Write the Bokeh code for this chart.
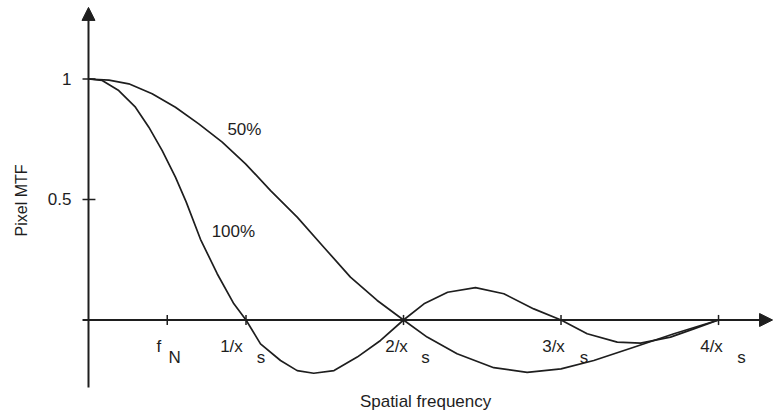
import math
from bokeh.plotting import figure
from bokeh.models import Range1d, Arrow, NormalHead, Label
from bokeh.core.properties import value
from bokeh.embed import file_html
from bokeh.resources import INLINE

# ---- data ----
x_100 = [0, 0.087, 0.192, 0.298, 0.383, 0.468, 0.552, 0.62, 0.711, 0.817, 0.923, 1.0,
         1.092, 1.219, 1.325, 1.43, 1.559, 1.706, 1.854, 2.0, 2.13, 2.28, 2.457, 2.637,
         2.827, 3.0, 3.166, 3.357, 3.505, 3.695, 3.843, 4.0]
mtf_100 = [1, 0.994, 0.952, 0.883, 0.800, 0.703, 0.593, 0.49, 0.335, 0.192, 0.067, 0,
           -0.099, -0.168, -0.21, -0.221, -0.21, -0.154, -0.085, 0, 0.067, 0.115, 0.134,
           0.109, 0.046, 0, -0.057, -0.092, -0.096, -0.071, -0.037, 0]

x_50 = [0, 0.13, 0.256, 0.404, 0.552, 0.700, 0.849, 0.997, 1.156, 1.325, 1.494, 1.663,
        1.833, 2.0, 2.15, 2.34, 2.573, 2.785, 3.0, 3.208, 3.462, 3.717, 4.0]
mtf_50 = [1, 0.995, 0.980, 0.939, 0.883, 0.814, 0.738, 0.648, 0.537, 0.427, 0.302, 0.178,
          0.081, 0, -0.071, -0.14, -0.198, -0.217, -0.203, -0.168, -0.113, -0.057, 0]

x_ticks = [0.5, 1, 2, 3, 4]
x_tick_main = ["f", "1/x", "2/x", "3/x", "4/x"]
x_tick_sub = ["N", "s", "s", "s", "s"]
y_ticks = [1, 0.5]
y_tick_labels = ["1", "0.5"]

curve_names = ["50%", "100%"]
curve_label_x = [0.99, 0.92]
curve_label_y = [0.79, 0.367]

x_title = "Spatial frequency"
y_title = "Pixel MTF"

# ---- styles ----
INK = "#1e1e1e"
FONT = "Liberation Sans"
main_dx = [-8.5, -14.5, -7, -7.5, -7]
sub_dx = [7.5, 15, 22, 23, 23]

W, H = 773, 411
p = figure(width=W, height=H, output_backend="svg", toolbar_location=None,
           x_axis_type=None, y_axis_type=None,
           x_range=Range1d(-0.5587, 4.349), y_range=Range1d(-0.3797, 1.3257),
           min_border=0, outline_line_color=None)
p.grid.visible = False

# axes with arrowheads
p.add_layout(Arrow(end=NormalHead(size=13, fill_color=INK, line_color=INK),
                   x_start=-0.038, y_start=0, x_end=4.343, y_end=0,
                   line_width=2, line_color=INK))
p.add_layout(Arrow(end=NormalHead(size=13, fill_color=INK, line_color=INK),
                   x_start=0, y_start=-0.28, x_end=0, y_end=1.297,
                   line_width=2, line_color=INK))

# ticks
p.segment(x0=x_ticks, y0=[-0.021] * len(x_ticks), x1=x_ticks, y1=[0.021] * len(x_ticks),
          line_color=INK, line_width=1.5)
p.segment(x0=[-0.038] * len(y_ticks), y0=y_ticks, x1=[0.044] * len(y_ticks), y1=y_ticks,
          line_color=INK, line_width=1.5)

# curves
p.line(x_100, mtf_100, line_color=INK, line_width=1.7, line_join="round")
p.line(x_50, mtf_50, line_color=INK, line_width=1.7, line_join="round")

# tick labels
for xv, m, s, dm, ds in zip(x_ticks, x_tick_main, x_tick_sub, main_dx, sub_dx):
    p.text(x=[xv], y=[0], text=[m], x_offset=dm, y_offset=27,
           text_align="center", text_baseline="middle",
           text_font=value(FONT), text_font_size="17px", text_color=INK)
    p.text(x=[xv], y=[0], text=[s], x_offset=ds, y_offset=38,
           text_align="center", text_baseline="middle",
           text_font=value(FONT), text_font_size="17px", text_color=INK)

p.text(x=[0] * len(y_ticks), y=y_ticks, text=y_tick_labels, x_offset=-17,
       text_align="right", text_baseline="middle",
       text_font=value(FONT), text_font_size="17px", text_color=INK)

# curve labels
p.text(x=curve_label_x, y=curve_label_y, text=curve_names,
       text_align="center", text_baseline="middle",
       text_font=value(FONT), text_font_size="17px", text_color=INK)

# axis titles
p.add_layout(Label(x=2.14, y=-0.338, text=x_title, text_align="center",
                   text_baseline="middle", text_font=FONT, text_font_size="17px",
                   text_color=INK))
p.add_layout(Label(x=-0.425, y=0.496, text=y_title, angle=math.pi / 2,
                   text_align="center", text_baseline="middle", text_font=FONT,
                   text_font_size="16px", text_color=INK))

open("out.html", "w").write(file_html(p, INLINE))
